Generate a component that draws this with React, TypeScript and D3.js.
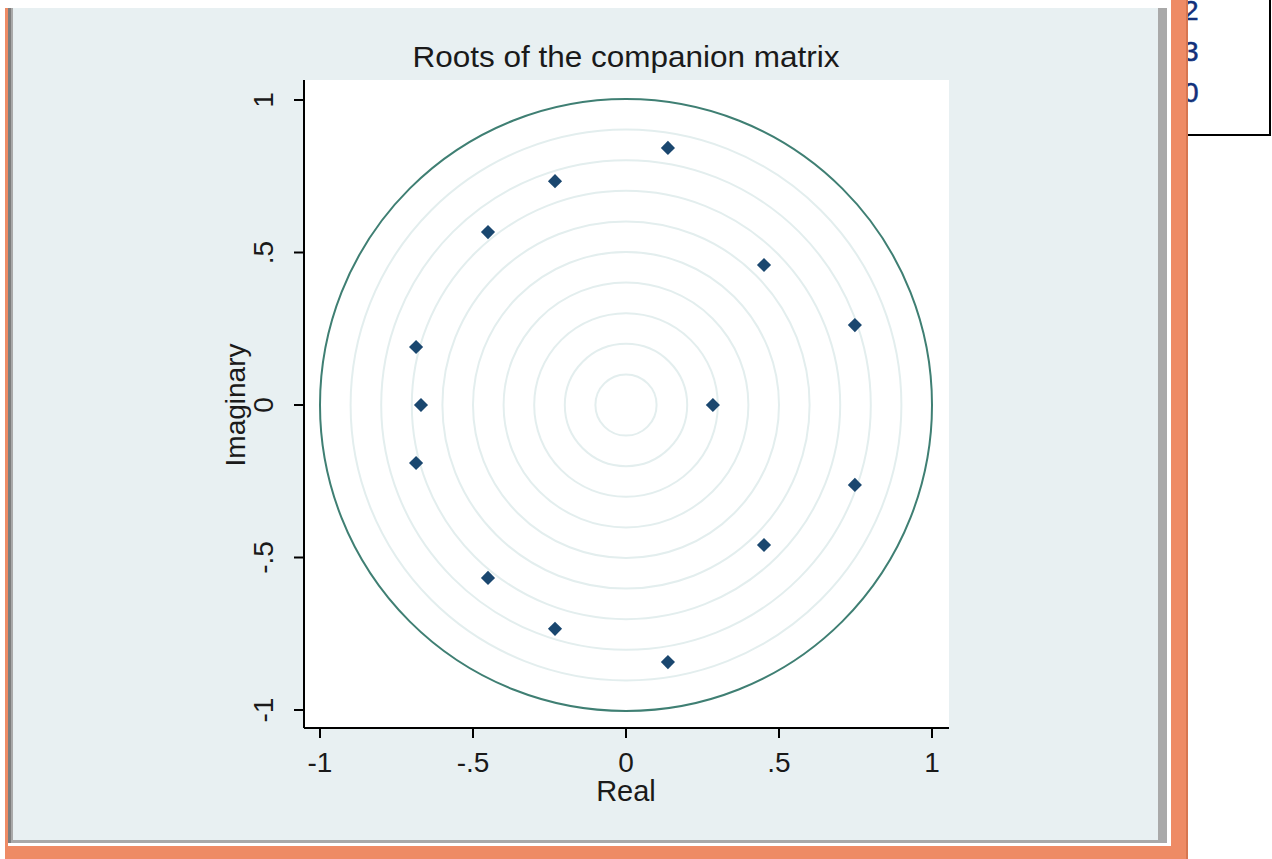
import React from "react";
import { scaleLinear, symbol, symbolSquare, range } from "d3";

// eigenvalues of the companion matrix
const realParts = [0.137, -0.232, -0.451, 0.451, 0.748, -0.686, -0.670, 0.284, -0.686, 0.748, 0.451, -0.451, -0.232, 0.137];
const imagParts = [0.843, 0.734, 0.567, 0.459, 0.262, 0.190, 0, 0, -0.190, -0.262, -0.459, -0.567, -0.734, -0.843];

const xTicks = [-1, -0.5, 0, 0.5, 1];
const yTicks = [-1, -0.5, 0, 0.5, 1];
const gridRadii = range(1, 10).map((i) => i / 10);

const sideLabels = ["2", "3", "0"];

function fmt(v: number) {
  if (v === 0) return "0";
  const s = String(v);
  return s.replace("0.", ".");
}

function RootsChart() {
  const W = 1272;
  const H = 859;
  const x = scaleLinear().domain([-1, 1]).range([320, 932]);
  const y = scaleLinear().domain([-1, 1]).range([710, 100]);

  const plot = { left: 304, top: 80, right: 949, bottom: 728 };
  // Stata's diamond: a square turned by 45 degrees
  const diamond = symbol().type(symbolSquare).size(100)();
  const font = "'Liberation Sans', Arial, sans-serif";
  const orange = "#ee8b65";

  return (
    <svg width={W} height={H} style={{ position: "absolute", left: 0, top: 0 }} fontFamily={font}>
      <rect width={W} height={H} fill="#ffffff" />

      {/* window frame */}
      <rect x={5} y={8} width={1183} height={H - 8} fill={orange} />
      <rect x={8} y={8} width={1163} height={838} fill="#ffffff" />
      <rect x={8} y={8} width={1159} height={835} fill="#a9a9a9" />
      <rect x={8} y={8} width={3} height={835} fill="#7d7d7d" />
      <rect x={13} y={8} width={1145} height={832} fill="#e8f0f2" />

      {/* side table box, cut by the frame */}
      <rect x={1172} y={-2} width={98} height={137} fill="#ffffff" stroke="#000" strokeWidth={2} />
      {sideLabels.map((t, i) => (
        <text key={i} x={1183} y={20 + i * 41} fontSize={28} fill="#12307a" stroke="#12307a" strokeWidth={0.5}>{t}</text>
      ))}
      <rect x={1171} y={0} width={17} height={H} fill={orange} />
      <rect x={1186} y={0} width={2} height={H} fill="#d77650" />

      {/* title */}
      <text x={626} y={67} textAnchor="middle" fontSize={30} fill="#1a1a1a" textLength={427} lengthAdjust="spacingAndGlyphs">
        Roots of the companion matrix
      </text>

      {/* plot region */}
      <rect x={plot.left} y={plot.top} width={plot.right - plot.left} height={plot.bottom - plot.top} fill="#ffffff" />

      {gridRadii.map((r) => (
        <circle key={r} cx={x(0)} cy={y(0)} r={x(r) - x(0)} fill="none" stroke="#e3eeee" strokeWidth={2} />
      ))}
      <circle cx={x(0)} cy={y(0)} r={x(1) - x(0)} fill="none" stroke="#3f7f73" strokeWidth={2} />

      {realParts.map((re, i) => (
        <path key={i} d={diamond} transform={`translate(${x(re)},${y(imagParts[i])}) rotate(45)`} fill="#1a476f" />
      ))}

      {/* axes */}
      <line x1={plot.left} x2={plot.right} y1={plot.bottom} y2={plot.bottom} stroke="#000" strokeWidth={2} />
      <line x1={plot.left} x2={plot.left} y1={plot.top} y2={plot.bottom} stroke="#000" strokeWidth={2} />

      {xTicks.map((t) => (
        <g key={t}>
          <line x1={x(t)} x2={x(t)} y1={plot.bottom} y2={plot.bottom + 10} stroke="#000" strokeWidth={2} />
          <text x={x(t)} y={772} textAnchor="middle" fontSize={28} fill="#1a1a1a">{fmt(t)}</text>
        </g>
      ))}
      {yTicks.map((t) => (
        <g key={t}>
          <line x1={plot.left - 10} x2={plot.left} y1={y(t)} y2={y(t)} stroke="#000" strokeWidth={2} />
          <text transform={`translate(273,${y(t)}) rotate(-90)`} textAnchor="middle" fontSize={28} fill="#1a1a1a">{fmt(t)}</text>
        </g>
      ))}

      <text x={626} y={801} textAnchor="middle" fontSize={29} fill="#1a1a1a">Real</text>
      <text transform={`translate(245,${y(0)}) rotate(-90)`} textAnchor="middle" fontSize={28} fill="#1a1a1a">Imaginary</text>
    </svg>
  );
}

export default function App() {
  return <RootsChart />;
}
